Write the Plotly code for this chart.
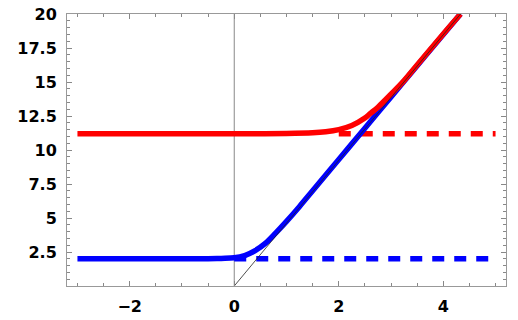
import plotly.graph_objects as go

# curves
x_blue = [-3.0, -2.0, -1.0, -0.5, -0.25, 0.0, 0.2, 0.4, 0.6, 0.8, 1.0, 1.25, 1.5, 2.0, 2.5, 3.0, 3.5, 4.0, 4.33]
y_blue = [2.0, 2.0, 2.0, 2.01, 2.03, 2.07, 2.24, 2.6, 3.15, 3.92, 4.75, 5.85, 7.0, 9.3, 11.6, 13.9, 16.2, 18.5, 20.0]

x_red = [-3.0, -2.0, -1.0, 0.0, 1.0, 1.5, 1.75, 2.0, 2.25, 2.5, 2.6, 2.75, 3.0, 3.25, 3.5, 4.0, 4.33]
y_red = [11.2, 11.2, 11.2, 11.2, 11.21, 11.26, 11.34, 11.5, 11.8, 12.35, 12.67, 13.15, 14.1, 15.1, 16.25, 18.53, 20.0]

# asymptotes
x_blue_dash = [0.0, 5.0]
y_blue_dash = [2.0, 2.0]
x_red_dash = [2.0, 5.0]
y_red_dash = [11.2, 11.2]

# reference lines
x_axis_line = [0.0, 0.0]
y_axis_line = [0.0, 20.0]
x_diag = [0.0, 4.33]
y_diag = [0.0, 20.0]

y_ticks = [2.5, 5, 7.5, 10, 12.5, 15, 17.5, 20]
y_ticktext = ["2.5", "5", "7.5", "10", "12.5", "15", "17.5", "20"]
x_ticks = [-2, 0, 2, 4]

fig = go.Figure()
fig.add_trace(go.Scatter(x=x_axis_line, y=y_axis_line, mode="lines", line=dict(color="#888888", width=1)))
fig.add_trace(go.Scatter(x=x_blue_dash, y=y_blue_dash, mode="lines", line=dict(color="#0000ff", width=5.5, dash="12px,10px")))
fig.add_trace(go.Scatter(x=x_red_dash, y=y_red_dash, mode="lines", line=dict(color="#ff0000", width=5.5, dash="12px,10px")))
fig.add_trace(go.Scatter(x=x_blue, y=y_blue, mode="lines", line=dict(color="#0000ff", width=5.5, shape="spline")))
fig.add_trace(go.Scatter(x=x_red, y=y_red, mode="lines", line=dict(color="#ff0000", width=5.5, shape="spline")))
fig.add_trace(go.Scatter(x=x_diag, y=y_diag, mode="lines", line=dict(color="#222222", width=0.8)))

tickfont = dict(family="DejaVu Sans", size=16, color="black", weight="bold")
fig.update_xaxes(range=[-3.2, 5.2], tickvals=x_ticks, ticks="inside", ticklen=5, tickcolor="#888888",
                 showline=True, linecolor="#999999", linewidth=1, mirror="allticks", showgrid=False, zeroline=False,
                 automargin=False, ticklabelstandoff=6,
                 tickfont=tickfont, minor=dict(dtick=0.5, ticks="inside", ticklen=3, tickcolor="#888888", showgrid=False))
fig.update_yaxes(range=[0, 20], tickvals=y_ticks, ticktext=y_ticktext, ticks="inside", ticklen=5, tickcolor="#888888",
                 showline=True, linecolor="#999999", linewidth=1, mirror="allticks", showgrid=False, zeroline=False,
                 automargin=False, ticklabelstandoff=6,
                 tickfont=tickfont, minor=dict(dtick=0.5, ticks="inside", ticklen=3, tickcolor="#888888", showgrid=False))
fig.update_layout(width=518, height=320, showlegend=False, plot_bgcolor="white", paper_bgcolor="white",
                  margin=dict(l=67, r=12, t=14, b=34))
fig.write_html("out.html", config={"displayModeBar": False}, post_script="document.body.style.margin='0';")
